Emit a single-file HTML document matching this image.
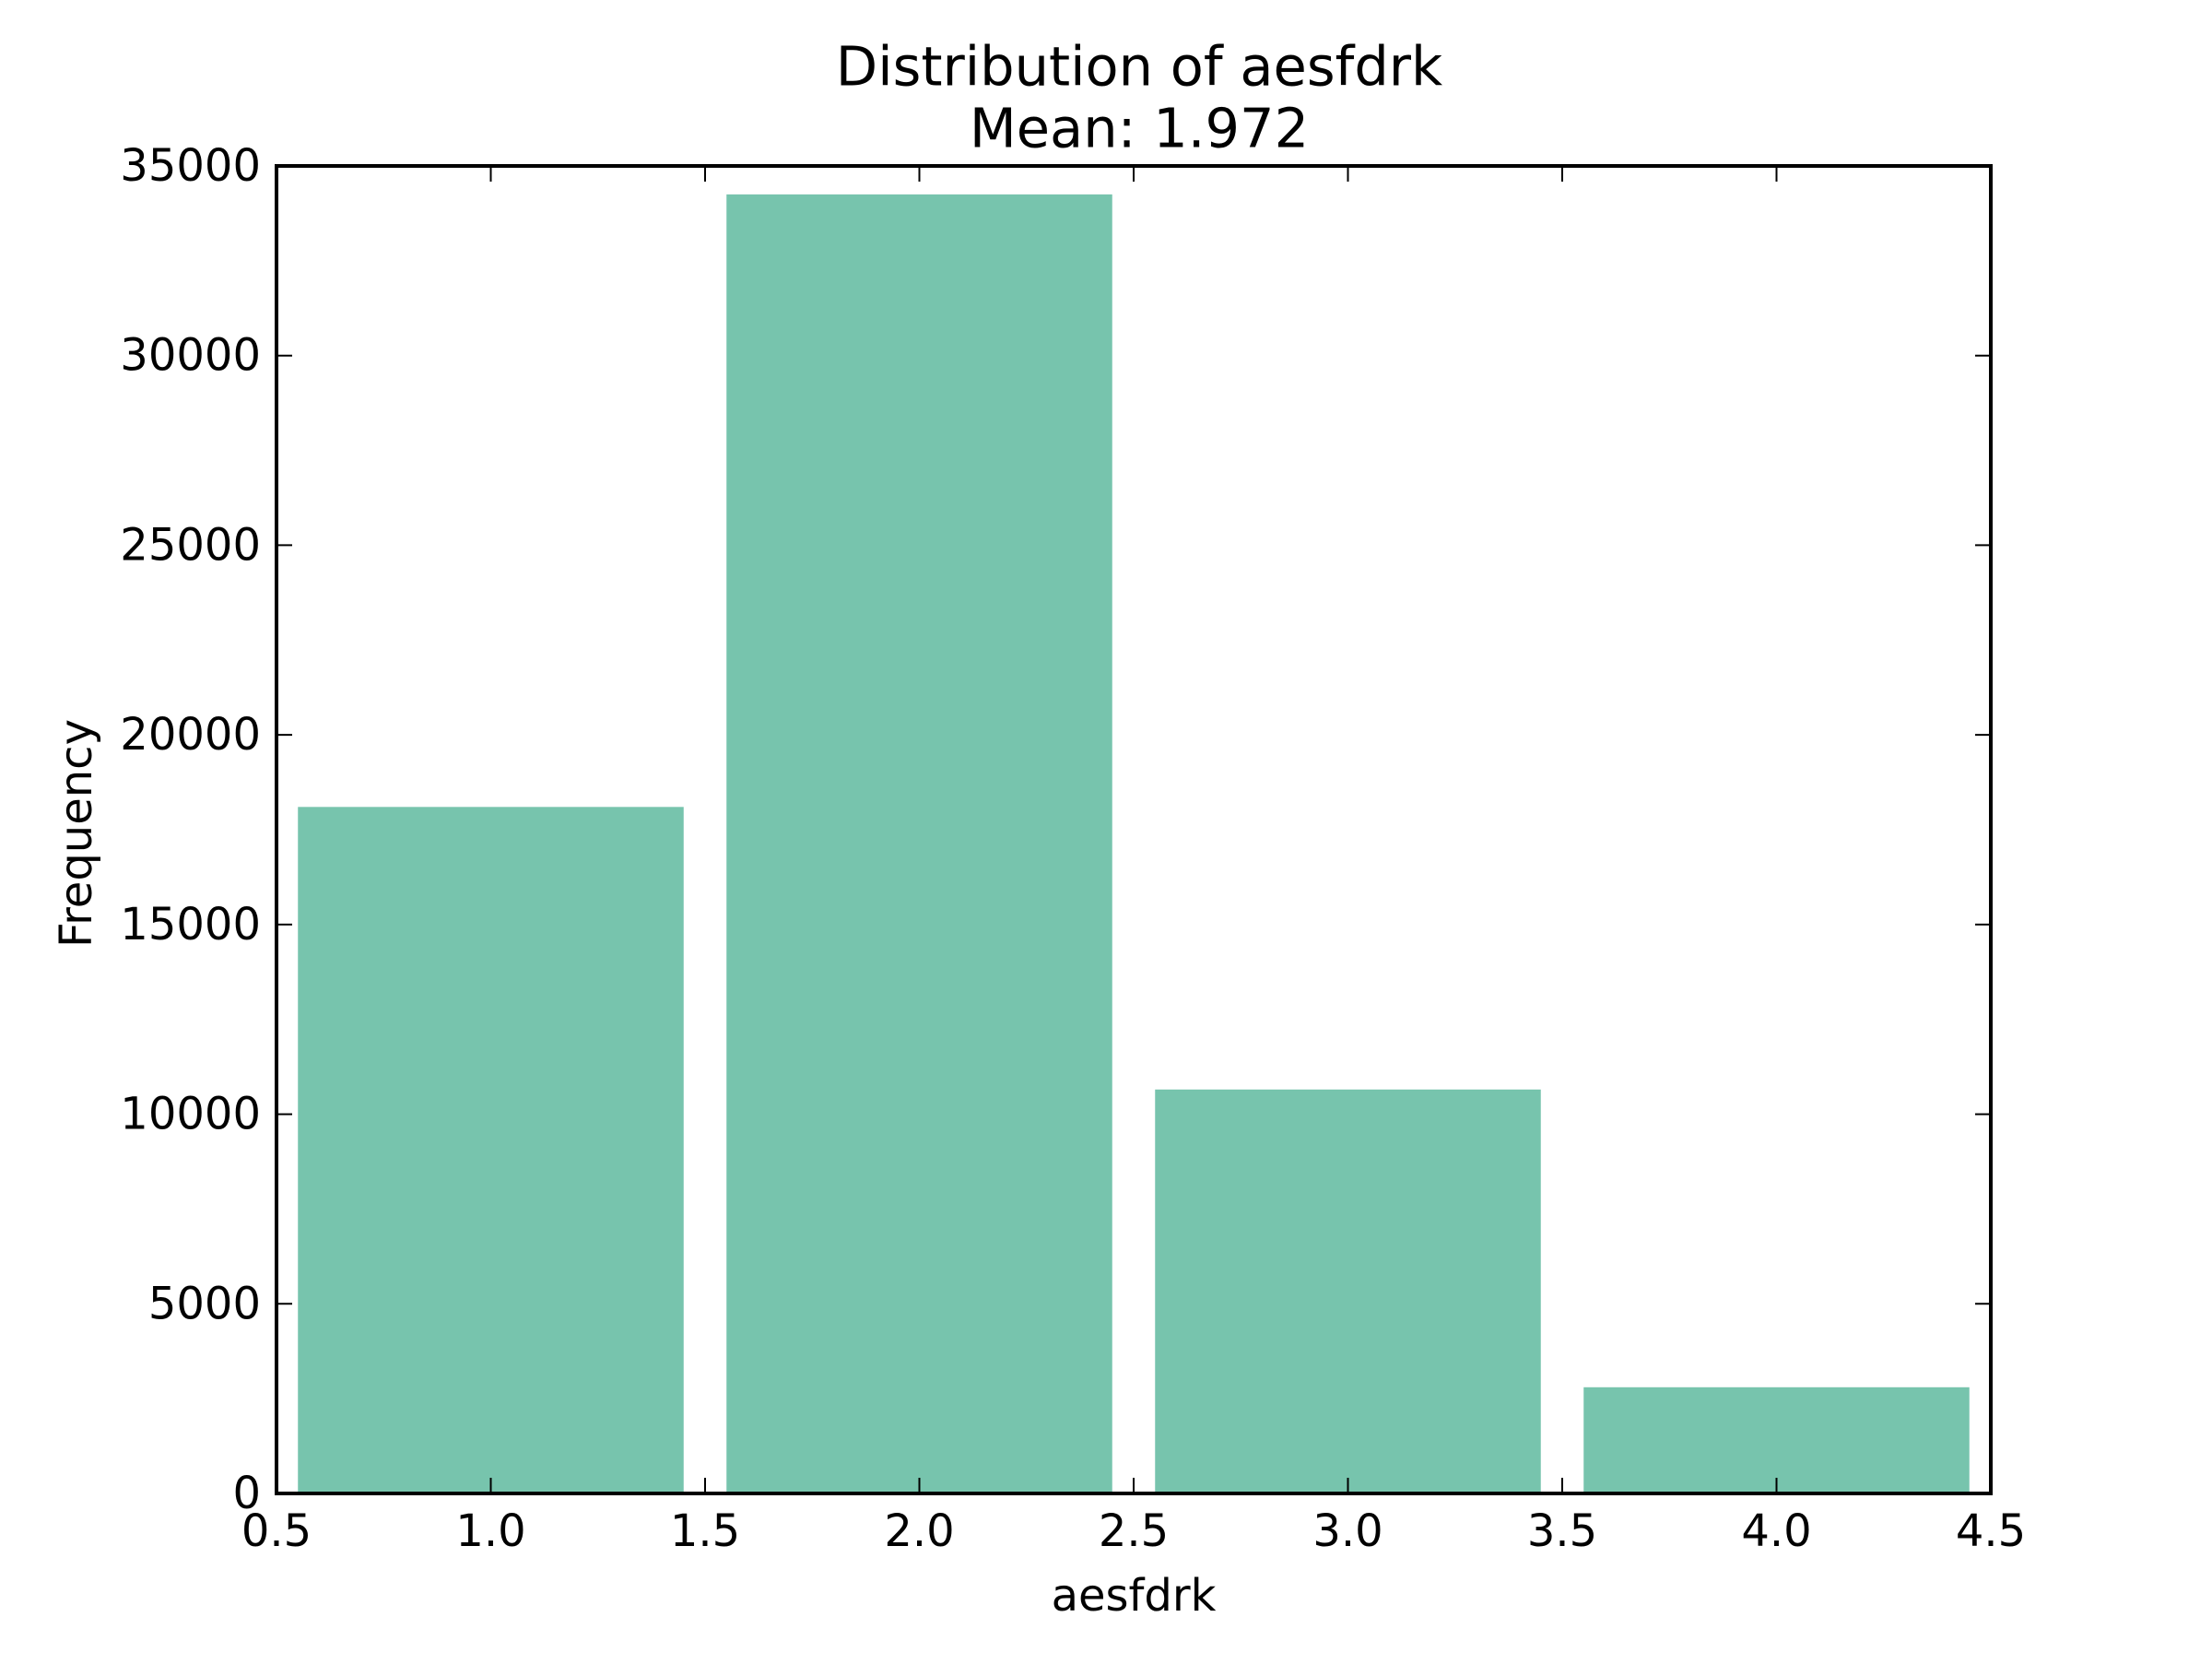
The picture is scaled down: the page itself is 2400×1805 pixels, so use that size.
<!DOCTYPE html>
<html><head><meta charset="utf-8"><style>
html,body{margin:0;padding:0;background:#fff;}
svg text{font-family:"DejaVu Sans","Liberation Sans",sans-serif;fill:#000;}
</style></head><body>
<svg id="chart" width="2400" height="1800" xmlns="http://www.w3.org/2000/svg">
<rect width="2400" height="1800" fill="#fff"/>
<g id="bars"></g>
<g id="ticks"></g>
<rect x="300" y="180" width="1860" height="1440" fill="none" stroke="#000" stroke-width="4"/>
<text x="1236" y="72" font-size="59" text-anchor="middle" dominant-baseline="central">Distribution of aesfdrk</text>
<text x="1236" y="139" font-size="59" text-anchor="middle" dominant-baseline="central">Mean: 1.972</text>
<text x="1230" y="1731" font-size="48" text-anchor="middle" dominant-baseline="central">aesfdrk</text>
<text x="0" y="0" font-size="48" text-anchor="middle" dominant-baseline="central" transform="translate(83,904) rotate(-90)">Frequency</text>
</svg>
<script>
const binStarts = [0.55, 1.55, 2.55, 3.55];
const binEnds = [1.45, 2.45, 3.45, 4.45];
const counts = [18100, 34250, 10650, 2800];
const xTicks = [0.5, 1.0, 1.5, 2.0, 2.5, 3.0, 3.5, 4.0, 4.5];
const xTickLabels = ["0.5","1.0","1.5","2.0","2.5","3.0","3.5","4.0","4.5"];
const yTicks = [0, 5000, 10000, 15000, 20000, 25000, 30000, 35000];
const yTickLabels = ["0","5000","10000","15000","20000","25000","30000","35000"];

const L=300,R=2160,T=180,B=1620;
const xMin=0.5,xMax=4.5,yMin=0,yMax=35000;
const xs=v=>L+(v-xMin)/(xMax-xMin)*(R-L);
const ys=v=>B-(v-yMin)/(yMax-yMin)*(B-T);
const NS="http://www.w3.org/2000/svg";
const bars=document.getElementById('bars');
const ticks=document.getElementById('ticks');
counts.forEach((c,i)=>{
  const r=document.createElementNS(NS,'rect');
  r.setAttribute('x',xs(binStarts[i]));
  r.setAttribute('width',xs(binEnds[i])-xs(binStarts[i]));
  r.setAttribute('y',ys(c));
  r.setAttribute('height',ys(0)-ys(c));
  r.setAttribute('fill','#77c4ad');
  
  
  bars.appendChild(r);
});
function line(x1,y1,x2,y2,name){
  const l=document.createElementNS(NS,'line');
  l.setAttribute('x1',x1);l.setAttribute('y1',y1);l.setAttribute('x2',x2);l.setAttribute('y2',y2);
  l.setAttribute('stroke','#000');l.setAttribute('stroke-width','2');
  
  
  ticks.appendChild(l);
}
function text(x,y,s,anchor,name){
  const t=document.createElementNS(NS,'text');
  t.setAttribute('x',x);t.setAttribute('y',y);t.setAttribute('font-size','48');
  t.setAttribute('text-anchor',anchor);t.setAttribute('dominant-baseline','central');
  t.textContent=s;
  
  
  ticks.appendChild(t);
}
xTicks.forEach((v,i)=>{
  const x=xs(v);
  line(x,B,x,B-17,'x-tick');
  line(x,T,x,T+17,'x-tick-top');
  text(x,1661,xTickLabels[i],'middle','x-tick-label');
});
yTicks.forEach((v,i)=>{
  const y=ys(v);
  line(L,y,L+17,y,'y-tick');
  line(R,y,R-17,y,'y-tick-right');
  text(283,y,yTickLabels[i],'end','y-tick-label');
});
</script>
</body></html>
